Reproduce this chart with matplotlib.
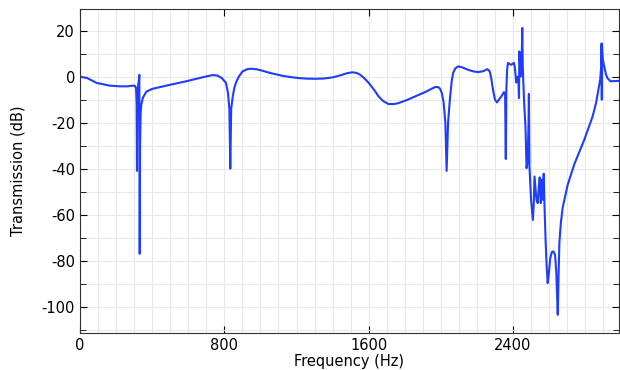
import matplotlib.pyplot as plt
from matplotlib.ticker import MultipleLocator

plt.rcParams['axes.unicode_minus'] = False

# Transmission curve (Hz, dB)
freq_hz = [
    0, 40, 92, 165, 221, 260, 294, 305, 311, 314, 316, 318, 322, 327, 329, 331,
    333, 336, 340, 349, 368, 400, 478, 588, 650, 699, 735, 760, 785, 809, 820,
    828, 833, 838, 846, 855, 864, 880, 901, 925, 947, 980, 1011, 1060, 1121,
    1170, 1213, 1260, 1306, 1350, 1400, 1434, 1480, 1508, 1530, 1550, 1575,
    1600, 1630, 1655, 1680, 1710, 1740, 1765, 1810, 1857, 1910, 1968, 1985,
    1995, 2005, 2015, 2025, 2032, 2040, 2050, 2060, 2068, 2080, 2096, 2120,
    2151, 2180, 2206, 2235, 2258, 2271, 2280, 2289, 2300, 2311, 2322, 2335,
    2350, 2356, 2360, 2363, 2367, 2372, 2382, 2390, 2398, 2405, 2410, 2418,
    2424, 2430, 2433, 2435, 2440, 2442, 2448, 2451, 2454, 2456, 2462, 2469,
    2475, 2481, 2486, 2488, 2491, 2500, 2510, 2515, 2519, 2524, 2530, 2537,
    2543, 2548, 2551, 2554, 2559, 2562, 2565, 2570, 2574, 2580, 2586, 2592,
    2598, 2606, 2615, 2624, 2633, 2640, 2646, 2648, 2652, 2657, 2665, 2675,
    2703, 2740, 2795, 2841, 2860, 2875, 2883, 2888, 2891, 2892, 2893, 2897,
    2905, 2915, 2923, 2940, 2990,
]
trans_db = [
    0.0, -0.6, -2.7, -3.9, -4.2, -4.2, -3.9, -4.0, -5.0, -12.0, -41.0, -12.0,
    -4.0, -1.0, 0.8, -77.0, -30.0, -16.0, -12.0, -9.1, -6.5, -5.3, -3.9, -2.0,
    -0.8, 0.1, 0.7, 0.5, -0.5, -2.7, -7.0, -14.0, -40.0, -14.0, -9.0, -5.0,
    -2.7, 0.0, 2.3, 3.2, 3.5, 3.2, 2.6, 1.5, 0.4, -0.2, -0.6, -0.85, -0.9,
    -0.8, -0.3, 0.4, 1.5, 1.9, 1.7, 1.0, -0.6, -2.7, -5.7, -8.6, -10.6, -11.9,
    -11.9, -11.5, -10.2, -8.6, -6.8, -4.5, -4.5, -5.2, -7.0, -11.0, -20.0,
    -41.0, -20.0, -10.0, -2.0, 1.6, 3.6, 4.5, 4.0, 3.0, 2.3, 2.0, 2.4, 3.3,
    2.3, -1.0, -5.7, -10.0, -11.2, -10.0, -8.6, -6.7, -8.0, -35.8, -6.0, 3.0,
    6.0, 5.5, 5.2, 5.6, 6.0, 4.0, -2.5, 0.0, -2.0, -9.3, 11.0, 4.0, 0.1, 5.0,
    21.2, 5.0, 0.0, -12.0, -21.6, -39.8, -37.0, -20.0, -7.5, -39.0, -53.5,
    -62.3, -55.0, -43.4, -48.0, -53.5, -55.0, -48.0, -43.8, -50.0, -55.0,
    -44.8, -50.0, -53.5, -42.2, -55.0, -70.0, -82.0, -89.8, -86.0, -79.0,
    -76.3, -76.0, -77.5, -85.5, -100.0, -103.6, -88.0, -72.0, -63.7, -57.0,
    -47.0, -38.0, -27.4, -17.3, -11.5, -5.0, -1.3, 4.0, 14.5, -10.0, 13.5,
    8.0, 4.5, 1.0, -0.6, -2.0, -1.8,
]

fig = plt.figure(figsize=(6.2, 3.7), dpi=100)
ax = fig.add_axes([0.129, 0.1, 0.869, 0.876])

ax.plot(freq_hz, trans_db, color='#1f3cff', linewidth=1.5)

ax.set_xlim(0, 2986)
ax.set_ylim(-111.5, 29.5)

ax.xaxis.set_major_locator(MultipleLocator(800))
ax.xaxis.set_minor_locator(MultipleLocator(100))
ax.yaxis.set_major_locator(MultipleLocator(20))
ax.yaxis.set_minor_locator(MultipleLocator(10))

ax.grid(which='both', color='#e8e8e8', linewidth=0.8)
ax.set_axisbelow(True)

ax.tick_params(which='both', direction='in', top=True, right=True, labelsize=10.5)
ax.tick_params(which='major', length=5)
ax.tick_params(axis='y', which='minor', length=4)
ax.tick_params(axis='x', which='minor', length=0)

for s in ax.spines.values():
    s.set_color('#333333')

ax.set_xlabel('Frequency (Hz)', fontsize=10.5, labelpad=1)
ax.set_ylabel('Transmission (dB)', fontsize=10.5, labelpad=12)

plt.savefig('out.png', dpi=100)
